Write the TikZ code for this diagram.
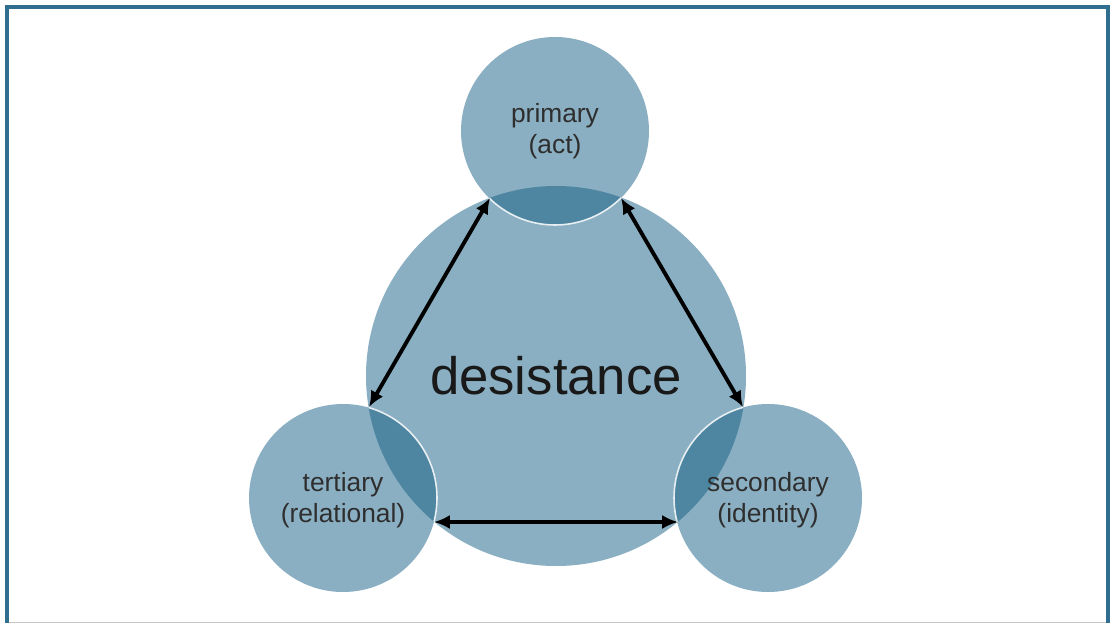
\documentclass[tikz,border=0pt]{standalone}
\usepackage{fontspec}
\setmainfont{Liberation Sans}
\usetikzlibrary{arrows.meta}
\definecolor{ringfill}{HTML}{8AAFC2}
\definecolor{ringdark}{HTML}{4E86A1}
\definecolor{frameblue}{HTML}{2F6E8E}
\definecolor{labelgray}{HTML}{2E2E2E}
\begin{document}
\begin{tikzpicture}[x=0.02cm, y=-0.02cm, >={Latex[length=9pt,width=8pt]}]
 \useasboundingbox (0,0) rectangle (1114,624);
 \fill[white] (0,0) rectangle (1114,624);
 \draw[gray!45, line width=0.8pt] (7,622.5) -- (1108,622.5);
 \draw[frameblue, line width=2.2pt] (7,623) -- (7,7) -- (1108,7) -- (1108,623);
 % the four discs
 \fill[ringfill] (556,376) circle (190);
 \fill[ringfill] (555,131) circle (94);
 \fill[ringfill] (343,498) circle (94);
 \fill[ringfill] (768,498) circle (94);
 \begin{scope}
  \clip (556,376) circle (190);
  \fill[ringdark] (555,131) circle (94);
  \fill[ringdark] (343,498) circle (94);
  \fill[ringdark] (768,498) circle (94);
  \draw[white!80!ringfill, line width=0.9pt] (555,131) circle (94);
  \draw[white!80!ringfill, line width=0.9pt] (343,498) circle (94);
  \draw[white!80!ringfill, line width=0.9pt] (768,498) circle (94);
 \end{scope}
 % labels
 \node[text=black!90, font=\fontsize{30}{36}\selectfont] (core) at (556,376) {desistance};
 \node[text=labelgray, align=center, font=\fontsize{15}{17.5}\selectfont] (prim) at (555,131) {primary\\(act)};
 \node[text=labelgray, align=center, font=\fontsize{15}{17.5}\selectfont] (tert) at (343,500) {tertiary\\(relational)};
 \node[text=labelgray, align=center, font=\fontsize{15}{17.5}\selectfont] (sec) at (768,500) {secondary\\(identity)};
 % where the rims cross
 \coordinate (pl) at (490,198);
 \coordinate (pr) at (621,198);
 \coordinate (tu) at (369,407);
 \coordinate (td) at (434,522);
 \coordinate (su) at (743,407);
 \coordinate (sd) at (678,522);
 \draw[<->, line width=2.2pt] (pl) -- (tu);
 \draw[<->, line width=2.2pt] (pr) -- (su);
 \draw[<->, line width=2.2pt] (td) -- (sd);
\end{tikzpicture}
\end{document}
